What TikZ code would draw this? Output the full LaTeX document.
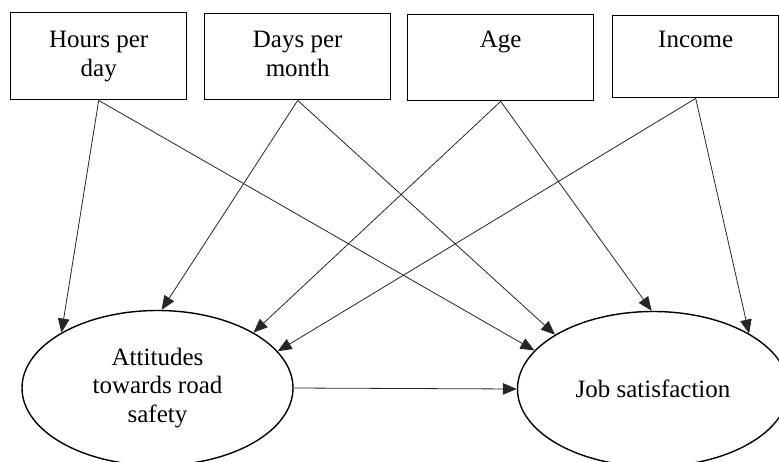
\documentclass[tikz,border=0pt]{standalone}
\usepackage{fontspec}
\setmainfont{Liberation Serif}
\usetikzlibrary{shapes.geometric, arrows.meta}

\begin{document}
\begin{tikzpicture}[x=1pt, y=-1pt,
    every node/.style={font=\fontsize{25}{28.5}\selectfont},
    varbox/.style={draw, line width=1.4pt, inner sep=0pt, anchor=north west},
    latent/.style={draw, ellipse, line width=1.4pt, inner sep=0pt, minimum width=271pt, minimum height=155pt, align=center},
    link/.style={-{Triangle[length=14pt,width=11.5pt]}, line width=0.8pt, black!85}]

    \useasboundingbox (0,0) rectangle (779,461);

    % observed variables (top row)
    \node[varbox] (hours) at (10,12) {\parbox[c][87pt][t]{176pt}{\centering\rule{0pt}{35pt}Hours per\\day}};
    \node[varbox] (days) at (204,13) {\parbox[c][86pt][t]{186pt}{\centering\rule{0pt}{34pt}Days per\\month}};
    \node[varbox] (age) at (407,14) {\parbox[c][86pt][t]{186pt}{\centering\rule{0pt}{33pt}Age}};
    \node[varbox] (income) at (612,15) {\parbox[c][82pt][t]{166pt}{\centering\rule{0pt}{32pt}Income}};

    % latent variables
    \node[latent] (att) at (157.5,388) {Attitudes\\towards road\\safety};
    \node[latent] (job) at (653,389) {Job satisfaction};

    % paths
    \draw[link] (hours.south) -- (att.150);
    \draw[link] (hours.south) -- (job.162);
    \draw[link] (days.south) -- (att.87);
    \draw[link] (days.south) -- (job.151);
    \draw[link] (age.south) -- (att.30);
    \draw[link] (age.south) -- (job.91);
    \draw[link] (income.south) -- (att.17);
    \draw[link] (income.south) -- (job.30);
    \draw[link] (att.east) -- (job.west);
\end{tikzpicture}
\end{document}
